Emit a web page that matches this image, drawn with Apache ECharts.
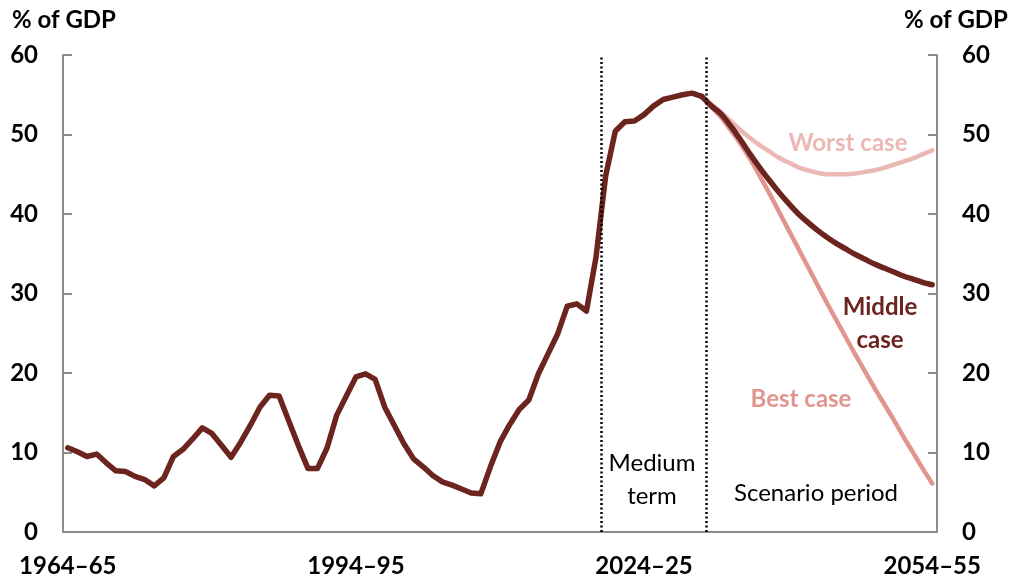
<!DOCTYPE html>
<html>
<head>
<meta charset="utf-8">
<script src="https://cdn.jsdelivr.net/npm/echarts@6/dist/echarts.min.js"></script>
<style>
html, body { margin: 0; padding: 0; background: #fff; }
#main { width: 1016px; height: 584px; }
</style>
</head>
<body>
<div id="main"></div>
<script>
// 年度标签 1964–65 ... 2054–55
var firstYear = 1964, lastYear = 2054;
var years = [];
for (var y = firstYear; y <= lastYear; y++) {
    years.push(y + '–' + String(y + 1).slice(-2));
}

// 历史 + 中期 (1964–65 .. 2030–31)
var actual = [10.6, 10.1, 9.5, 9.8, 8.7, 7.7, 7.6, 7.0, 6.6, 5.8,
    6.8, 9.5, 10.4, 11.7, 13.1, 12.4, 10.9, 9.4, 11.3, 13.4,
    15.7, 17.2, 17.1, 14.0, 10.9, 8.0, 8.0, 10.6, 14.7, 17.1,
    19.5, 19.9, 19.2, 15.7, 13.4, 11.1, 9.2, 8.2, 7.1, 6.3,
    5.9, 5.4, 4.9, 4.8, 8.2, 11.3, 13.5, 15.4, 16.6, 19.9,
    22.4, 24.9, 28.4, 28.7, 27.8, 34.6,
    44.8, 50.4, 51.6, 51.7, 52.5, 53.6, 54.4, 54.7, 55.0, 55.2, 54.8];

// 情景期 (2031–32 .. 2054–55)
var middleCase = [53.6, 52.6, 51.1, 49.4, 47.6, 45.9, 44.3, 42.8, 41.4, 40.1,
    39.0, 38.0, 37.1, 36.3, 35.6, 34.9, 34.3, 33.7, 33.2, 32.7,
    32.2, 31.8, 31.4, 31.1];
var worstCase = [53.8, 52.8, 51.7, 50.6, 49.6, 48.7, 47.9, 47.1, 46.5, 45.9,
    45.5, 45.2, 45.0, 45.0, 45.0, 45.1, 45.3, 45.5, 45.8, 46.2,
    46.6, 47.0, 47.5, 48.0];
var bestCase = [53.5, 52.2, 50.6, 48.9, 47.0, 44.9, 42.7, 40.4, 38.1, 35.8,
    33.5, 31.2, 28.9, 26.7, 24.5, 22.3, 20.2, 18.1, 16.1, 14.1,
    12.0, 10.0, 8.0, 6.1];

var yTicks = [0, 10, 20, 30, 40, 50, 60];
// 分隔线位置（类目边界）
var mediumTermStart = 56;
var scenarioStart = 67;

var dark = '#6B241E', worstColor = '#EBB8B3', bestColor = '#E0958E';
var axisColor = '#8C8C8C';

// 情景线从最后一个实际点开始
function scenarioSeries(vals) {
    var out = [];
    for (var i = 0; i < years.length; i++) out.push(null);
    out[scenarioStart - 1] = actual[actual.length - 1];
    for (var j = 0; j < vals.length; j++) out[scenarioStart + j] = vals[j];
    return out;
}
var actualFull = actual.slice();
while (actualFull.length < years.length) actualFull.push(null);

var myChart = echarts.init(document.getElementById('main'));

var yAxisBase = {
    type: 'value',
    min: yTicks[0],
    max: yTicks[yTicks.length - 1],
    interval: 10,
    axisLine: { show: true, lineStyle: { color: axisColor, width: 2 } },
    axisTick: { show: true, inside: true, length: 9, lineStyle: { color: axisColor, width: 2 } },
    splitLine: { show: false },
    axisLabel: { color: '#000', fontFamily: 'Lato', fontWeight: 'bold', fontSize: 24, margin: 25 }
};

var bigText = function (text, x, y, color, weight) {
    return {
        type: 'text', x: x, y: y,
        style: {
            text: text, fill: color, align: 'center', verticalAlign: 'middle',
            font: (weight || 'bold') + ' 24px Lato', lineHeight: 33
        }
    };
};

var option = {
    animation: false,
    backgroundColor: '#fff',
    grid: { left: 63, right: 79, top: 55, bottom: 52 },
    xAxis: [{
        type: 'category',
        data: years,
        boundaryGap: true,
        axisLine: { lineStyle: { color: axisColor, width: 2 } },
        axisTick: { inside: true, length: 9, interval: 4, lineStyle: { color: axisColor, width: 2 } },
        axisLabel: { interval: 29, color: '#000', fontFamily: 'Lato', fontWeight: 'bold', fontSize: 24, margin: 22 }
    }, {
        type: 'value', min: 0, max: years.length, show: false
    }],
    yAxis: [
        Object.assign({ position: 'left' }, yAxisBase),
        Object.assign({ position: 'right' }, yAxisBase)
    ],
    series: [{
        name: 'Worst case', type: 'line', data: scenarioSeries(worstCase),
        smooth: 0.3, showSymbol: false,
        lineStyle: { color: worstColor, width: 4.5, cap: 'round' }
    }, {
        name: 'Best case', type: 'line', data: scenarioSeries(bestCase),
        smooth: 0.3, showSymbol: false,
        lineStyle: { color: bestColor, width: 4.5, cap: 'round' }
    }, {
        name: 'Middle case', type: 'line', data: scenarioSeries(middleCase),
        smooth: 0.3, showSymbol: false,
        lineStyle: { color: dark, width: 5.5, cap: 'round' }
    }, {
        name: 'Actual', type: 'line', data: actualFull,
        showSymbol: false,
        lineStyle: { color: dark, width: 5.5, cap: 'round', join: 'round' }
    }, {
        name: 'periods', type: 'line', xAxisIndex: 1, data: [],
        markLine: {
            silent: true, symbol: 'none', label: { show: false },
            lineStyle: { color: '#000', type: [2, 2.5], width: 2.5 },
            data: [{ xAxis: mediumTermStart }, { xAxis: scenarioStart }]
        }
    }],
    graphic: [
        bigText('% of GDP', 64, 20, '#000'),
        bigText('% of GDP', 956, 20, '#000'),
        bigText('Medium\nterm', 652, 480, '#000', 'normal'),
        bigText('Scenario period', 816, 493, '#000', 'normal'),
        bigText('Worst case', 848, 143, worstColor),
        bigText('Middle\ncase', 880, 324, dark),
        bigText('Best case', 801, 399, bestColor)
    ]
};

myChart.setOption(option);
</script>
</body>
</html>
